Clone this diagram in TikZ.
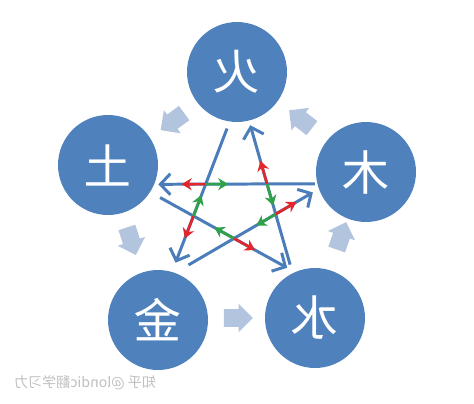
\documentclass[tikz,border=0pt]{standalone}
\usepackage{fontspec}
\usepackage{graphicx}
\newfontfamily\cjk{Noto Sans CJK SC}
\usetikzlibrary{arrows.meta,calc,shapes.arrows}
\definecolor{ballblue}{HTML}{4F81BD}
\definecolor{lineblue}{HTML}{4A7DBA}
\definecolor{pale}{HTML}{B3C4DF}
\definecolor{kered}{HTML}{E3262B}
\definecolor{wugreen}{HTML}{2FA148}
\newcommand{\flip}[1]{\scalebox{-1}[1]{#1}}

\begin{document}
\begin{tikzpicture}[x=0.02cm, y=-0.02cm,
	e/.style={circle, fill=ballblue, minimum size=2cm, inner sep=0pt, text=white, font=\cjk\fontsize{27}{27}\selectfont},
	g/.style={single arrow, fill=pale, minimum height=0.58cm, inner xsep=0pt, inner ysep=0.17cm, single arrow head extend=0.11cm},
	k/.style={draw=lineblue, line width=1.7pt, -{Straight Barb[length=2mm, width=4.2mm]}},
	kr/.style={draw=kered, line width=1.5pt, -{Stealth[length=2mm, width=2.4mm]}},
	kg/.style={draw=wugreen, line width=1.5pt, -{Stealth[length=2mm, width=2.4mm]}}]
	\useasboundingbox (0,0) rectangle (474,403);

	\node[e] (huo) at (237,72) {\flip{火}};
	\node[e] (tu) at (108,165) {\flip{土}};
	\node[e] (mu) at (366,172) {\flip{木}};
	\node[e] (jin) at (158,320) {\flip{金}};
	\node[e] (shui) at (315,318) {\flip{水}};

	% sheng
	\node[g, rotate=216] (g1) at (176,119) {};
	\node[g, rotate=142] (g2) at (304,122) {};
	\node[g, rotate=-72] (g3) at (130,237) {};
	\node[g] (g4) at (234,318) {};
	\node[g, rotate=71] (g5) at (340,240) {};

	% ke
	\coordinate (p1s) at ($(mu)!1.04!(mu.193)$);
	\coordinate (p1e) at ($(tu)!1.07!(tu.339)$);
	\coordinate (p2s) at ($(tu)!1.22!(tu.328)$);
	\coordinate (p2e) at ($(shui)!1.14!(shui.119)$);
	\coordinate (p3s) at ($(shui)!1.17!(shui.115)$);
	\coordinate (p3e) at ($(huo)!1.09!(huo.284)$);
	\coordinate (p4s) at ($(huo)!1.14!(huo.260)$);
	\coordinate (p4e) at ($(jin)!1.19!(jin.73)$);
	\coordinate (p5s) at ($(jin)!1.25!(jin.61)$);
	\coordinate (p5e) at ($(mu)!1.13!(mu.201)$);

	\draw[k] (p1s) -- (p1e);
	\draw[k] (p2s) -- (p2e);
	\draw[k] (p3s) -- (p3e);
	\draw[k] (p4s) -- (p4e);
	\draw[k] (p5s) -- (p5e);

	\coordinate (v1) at (intersection of p1s--p1e and p4s--p4e);
	\coordinate (v2) at (intersection of p1s--p1e and p3s--p3e);
	\coordinate (v3) at (intersection of p3s--p3e and p5s--p5e);
	\coordinate (v4) at (intersection of p5s--p5e and p2s--p2e);
	\coordinate (v5) at (intersection of p2s--p2e and p4s--p4e);

	\draw[kr] (v1) -- ($(v1)!0.48cm!(p1e)$);
	\draw[kg] (v1) -- ($(v1)!0.45cm!(p1s)$);
	\draw[kr] (v2) -- ($(v2)!0.48cm!(p3e)$);
	\draw[kg] (v2) -- ($(v2)!0.45cm!(p3s)$);
	\draw[kr] (v3) -- ($(v3)!0.48cm!(p5e)$);
	\draw[kg] (v3) -- ($(v3)!0.45cm!(p5s)$);
	\draw[kr] (v4) -- ($(v4)!0.48cm!(p2e)$);
	\draw[kg] (v4) -- ($(v4)!0.45cm!(p2s)$);
	\draw[kr] (v5) -- ($(v5)!0.48cm!(p4e)$);
	\draw[kg] (v5) -- ($(v5)!0.45cm!(p4s)$);

	\node[anchor=west, text=black!25, font=\cjk\fontsize{8}{8}\selectfont] (mark) at (8,383) {\flip{知乎 @londic翻学习力}};
\end{tikzpicture}
\end{document}
